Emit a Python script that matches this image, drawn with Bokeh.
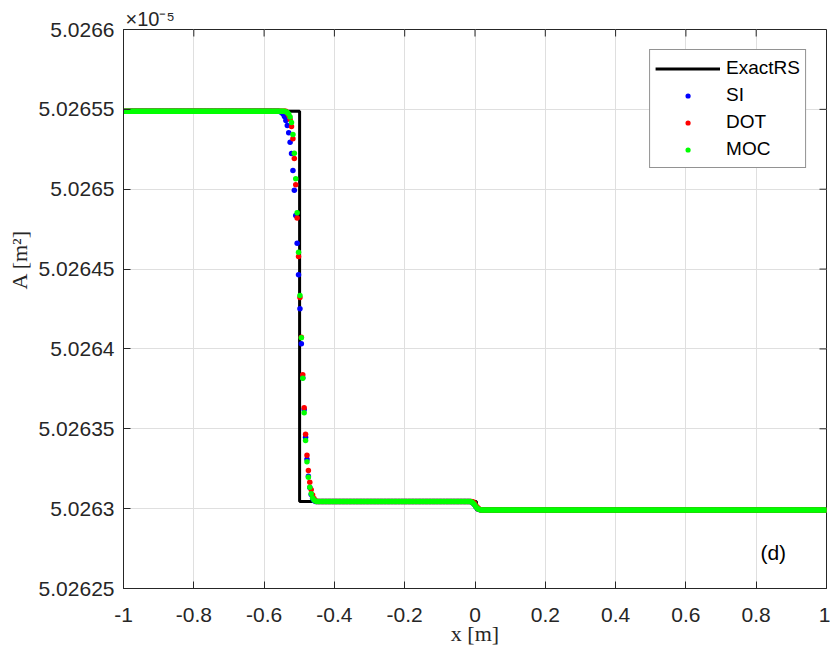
import numpy as np
from bokeh.plotting import figure
from bokeh.models import (Range1d, FixedTicker, Legend, LegendItem, CustomJSTickFormatter, Title,
                          Label)
from bokeh.embed import file_html
from bokeh.resources import INLINE

# ---------------- data (A in units of 1e-5 m^2) ----------------
n_cells = 500
x_left, x_right = -1.0, 1.0

x_ticks = [-1, -0.8, -0.6, -0.4, -0.2, 0, 0.2, 0.4, 0.6, 0.8, 1]
y_ticks = [5.02625, 5.0263, 5.02635, 5.0264, 5.02645, 5.0265, 5.02655, 5.0266]

# exact Riemann solution
exact_x = [-1.0, -0.499, -0.499, 0.004, 0.004, 1.0]
exact_y = [5.0265488, 5.0265488, 5.0263045, 5.0263045, 5.0262991, 5.0262991]

left_state = 5.0265488
mid_state = 5.0263045
right_state = 5.0262991

# shock profiles (first cell index, values)
si_shock_start = 111
si_shock = [5.0265485, 5.0265480, 5.0265471, 5.0265455, 5.0265430, 5.0265399, 5.0265353,
            5.0265294, 5.0265224, 5.0265117, 5.0264994, 5.0264835, 5.0264662, 5.0264464,
            5.0264251, 5.0264032, 5.0263819, 5.0263621, 5.0263447, 5.0263310, 5.0263203,
            5.0263132, 5.0263089, 5.0263063, 5.0263051]
dot_shock_start = 116
dot_shock = [5.0265477, 5.0265462, 5.0265436, 5.0265393, 5.0265316, 5.0265192, 5.0265028,
             5.0264819, 5.0264579, 5.0264322, 5.0264073, 5.0263838, 5.0263631, 5.0263466,
             5.0263335, 5.0263239, 5.0263166, 5.0263118, 5.0263085, 5.0263063, 5.0263051]
moc_shock_start = 115
moc_shock = [5.0265485, 5.0265480, 5.0265471, 5.0265452, 5.0265418, 5.0265343, 5.0265225,
             5.0265065, 5.0264852, 5.0264606, 5.0264335, 5.0264070, 5.0263817, 5.0263600,
             5.0263427, 5.0263293, 5.0263197, 5.0263134, 5.0263093, 5.0263067, 5.0263054,
             5.0263048]

# contact region near x = 0
si_contact_start = 247
si_contact = [5.0263042, 5.0263035, 5.0263026, 5.0263013, 5.0263004, 5.0262998, 5.0262993]
dot_contact_start = 248
dot_contact = [5.0263043, 5.0263035, 5.0263020, 5.0263010, 5.0263001, 5.0262995]
moc_contact_start = 247
moc_contact = [5.0263042, 5.0263035, 5.0263026, 5.0263013, 5.0263004, 5.0262998, 5.0262993]

panel_tag = "(d)"
panel_tag_x, panel_tag_y = 0.812, 5.0262728

# ---------------- build series ----------------
dx = (x_right - x_left) / n_cells
x_cells = x_left + dx * (np.arange(n_cells) + 0.5)


def build(shock_start, shock, contact_start, contact):
    y = np.empty(n_cells)
    y[:shock_start] = left_state
    y[shock_start:shock_start + len(shock)] = shock
    y[shock_start + len(shock):contact_start] = mid_state
    y[contact_start:contact_start + len(contact)] = contact
    y[contact_start + len(contact):] = right_state
    return y


si_y = build(si_shock_start, si_shock, si_contact_start, si_contact)
dot_y = build(dot_shock_start, dot_shock, dot_contact_start, dot_contact)
moc_y = build(moc_shock_start, moc_shock, moc_contact_start, moc_contact)

# ---------------- figure ----------------
AX = "#262626"
GRID = "#dfdfdf"
FONT = "Liberation Sans"
SERIF = "Liberation Serif"

W, H = 830, 654
ML, MR, MT, MB = 121, 4, 29, 66
y0, y1 = 5.02625, 5.0266

p = figure(width=W, height=H, output_backend="svg", toolbar_location=None,
           x_range=Range1d(x_left, x_right), y_range=Range1d(y0, y1),
           min_border_left=ML, min_border_right=MR, min_border_top=MT, min_border_bottom=MB)
p.title.visible = False
p.background_fill_color = "white"
p.border_fill_color = "white"
p.outline_line_color = AX
p.outline_line_width = 1

fmt = CustomJSTickFormatter(code="return tick.toString();")
xt = FixedTicker(ticks=x_ticks)
yt = FixedTicker(ticks=y_ticks)

for ax, t in ((p.xaxis[0], xt), (p.yaxis[0], yt)):
    ax.ticker = t
    ax.formatter = fmt
    ax.axis_line_color = AX
    ax.major_tick_line_color = AX
    ax.major_tick_in = 7
    ax.major_tick_out = 0
    ax.minor_tick_line_color = None
    ax.major_label_text_font = FONT
    ax.major_label_text_font_size = "21px"
    ax.major_label_text_color = AX
p.xaxis[0].major_label_standoff = 19
p.yaxis[0].major_label_standoff = 9
p.xaxis[0].axis_label = "x [m]"
p.xaxis[0].axis_label_standoff = -4
p.xaxis[0].axis_label_text_font = SERIF
p.xaxis[0].axis_label_text_font_size = "22px"
p.xaxis[0].axis_label_text_font_style = "normal"
p.xaxis[0].axis_label_text_color = AX

p.xgrid.grid_line_color = GRID
p.ygrid.grid_line_color = GRID

# inward ticks on the top and right frame edges (from the tick arrays)
frame_w = W - ML - MR
frame_h = H - MT - MB
tick_len_x = 7 * (x_right - x_left) / frame_w
tick_len_y = 7 * (y1 - y0) / frame_h
p.segment(x0=x_ticks, y0=[y1] * len(x_ticks), x1=x_ticks, y1=[y1 - tick_len_y] * len(x_ticks),
          line_color=AX, line_width=1)
p.segment(x0=[x_right] * len(y_ticks), y0=y_ticks, x1=[x_right - tick_len_x] * len(y_ticks),
          y1=y_ticks, line_color=AX, line_width=1)

r_exact = p.line(exact_x, exact_y, line_color="black", line_width=3)
r_si = p.scatter(x_cells, si_y, size=5.5, fill_color="#0000ff", line_color=None)
r_dot = p.scatter(x_cells, dot_y, size=5.5, fill_color="#ff0000", line_color=None)
r_moc = p.scatter(x_cells, moc_y, size=5.5, fill_color="#00ff00", line_color=None)

legend = Legend(items=[LegendItem(label="ExactRS", renderers=[r_exact]),
                       LegendItem(label="SI", renderers=[r_si]),
                       LegendItem(label="DOT", renderers=[r_dot]),
                       LegendItem(label="MOC", renderers=[r_moc])],
                location="top_right")
legend.glyph_width = 65
legend.glyph_height = 13
legend.label_height = 26
legend.label_standoff = 6
legend.padding = 5
legend.spacing = 1
legend.margin = 20
legend.border_line_color = AX
legend.border_line_width = 1
legend.background_fill_alpha = 1
legend.label_text_font = FONT
legend.label_text_font_size = "19px"
legend.label_text_color = "black"
p.add_layout(legend)

# panel tag inside the frame
p.add_layout(Label(x=panel_tag_x, y=panel_tag_y, text=panel_tag, text_font=FONT,
                   text_font_size="21px", text_color="black", text_align="left",
                   text_baseline="alphabetic"))

# y-axis label as a left title, starting above the frame centre like the reference
p.add_layout(Title(text="A [m²]", align="left", offset=299, standoff=8, text_font=SERIF,
                   text_font_size="22px", text_font_style="normal", text_color=AX), "left")

# exponent marker above the y axis
p.add_layout(Title(text="×10⁻⁵", align="left", offset=2, standoff=0, text_font=FONT,
                   text_font_size="20px", text_font_style="normal", text_color=AX), "above")

open("out.html", "w").write(file_html(p, INLINE))
